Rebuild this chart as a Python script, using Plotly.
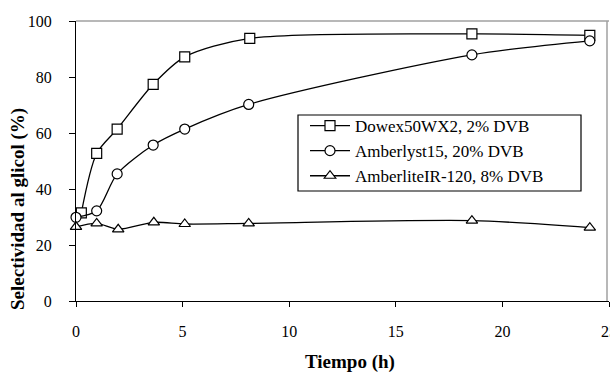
import plotly.graph_objects as go

# Data
dowex_x = [0.25, 0.97, 1.93, 3.62, 5.1, 8.15, 18.57, 24.1]
dowex_y = [31.5, 52.7, 61.4, 77.4, 87.2, 93.8, 95.4, 94.9]

amberlyst_x = [0.0, 0.97, 1.93, 3.62, 5.1, 8.1, 18.57, 24.1]
amberlyst_y = [29.9, 32.2, 45.4, 55.7, 61.4, 70.2, 87.9, 92.9]

amberlite_x = [0.0, 0.97, 1.98, 3.65, 5.1, 8.1, 18.57, 24.1]
amberlite_y = [26.5, 27.7, 25.6, 28.1, 27.5, 27.7, 28.7, 26.2]

names = ["Dowex50WX2, 2% DVB", "Amberlyst15, 20% DVB", "AmberliteIR-120, 8% DVB"]
symbols = ["square", "circle", "triangle-up"]

x_ticks = [0, 5, 10, 15, 20, 25]
y_ticks = [0, 20, 40, 60, 80, 100]

FONT = "Liberation Serif"

fig = go.Figure()
for xs, ys, nm, sym in [(dowex_x, dowex_y, names[0], symbols[0]),
                        (amberlyst_x, amberlyst_y, names[1], symbols[1]),
                        (amberlite_x, amberlite_y, names[2], symbols[2])]:
    fig.add_trace(go.Scatter(
        x=xs, y=ys, name=nm, mode="lines+markers",
        line=dict(color="black", width=1.3, shape="spline", smoothing=0.8),
        marker=dict(symbol=sym, size=10, color="white",
                    line=dict(color="black", width=1.2)),
        cliponaxis=False,
    ))

L, R, T, B = 76, 1, 21, 71
W, H = 610, 372
pw = W - L - R
ph = H - T - B

def px2x(px):
    return (px - L) / pw

def py2y(py):
    return (H - B - py) / ph

fig.update_layout(
    width=W, height=H,
    margin=dict(l=L, r=R, t=T, b=B, autoexpand=False),
    paper_bgcolor="white", plot_bgcolor="white",
    font=dict(family=FONT, color="black", size=16),
    showlegend=True,
    legend=dict(
        x=px2x(305), y=py2y(108), xanchor="left", yanchor="top",
        borderwidth=0, bgcolor="rgba(0,0,0,0)",
        font=dict(family=FONT, size=17, color="black"),
        itemwidth=40,
    ),
    xaxis=dict(
        range=[0, 25], tickvals=x_ticks, ticktext=[str(v) for v in x_ticks],
        showgrid=False, zeroline=False, showline=True, linecolor="black", linewidth=1.3,
        ticks="outside", ticklen=5, tickcolor="black", tickwidth=1.3,
        ticklabelstandoff=11, ticklabeloverflow="allow", automargin=False,
        tickfont=dict(family=FONT, size=16, color="black"),
    ),
    yaxis=dict(
        range=[0, 100], tickvals=y_ticks, ticktext=[str(v) for v in y_ticks],
        showgrid=False, zeroline=False, showline=True, linecolor="black", linewidth=1.3,
        ticks="outside", ticklen=6, tickcolor="black", tickwidth=1.3,
        ticklabelstandoff=14, automargin=False,
        tickfont=dict(family=FONT, size=16, color="black"),
    ),
    shapes=[
        dict(type="line", xref="paper", yref="paper", x0=0, x1=1, y0=1, y1=1,
             line=dict(color="#a0a0a0", width=1.5)),
        dict(type="line", xref="paper", yref="paper", x0=px2x(607), x1=px2x(607), y0=0, y1=1,
             line=dict(color="#a0a0a0", width=1.5)),
        dict(type="rect", xref="paper", yref="paper",
             x0=px2x(298), x1=px2x(581), y0=py2y(191), y1=py2y(115),
             line=dict(color="black", width=1.2), fillcolor="rgba(0,0,0,0)", layer="above"),
    ],
    annotations=[
        dict(text="<b>Tiempo (h)</b>", xref="paper", yref="paper",
             x=px2x(350), y=py2y(362), xanchor="center", yanchor="middle",
             showarrow=False, font=dict(family=FONT, size=19, color="black")),
        dict(text="<b>Selectividad al glicol (%)</b>", xref="paper", yref="paper",
             x=px2x(18), y=py2y(209), xanchor="center", yanchor="middle", textangle=-90,
             showarrow=False, font=dict(family=FONT, size=19, color="black")),
    ],
)

fig.write_html("out.html", config={"displayModeBar": False},
               post_script="document.body.style.margin='0px';document.body.style.overflow='hidden';")
